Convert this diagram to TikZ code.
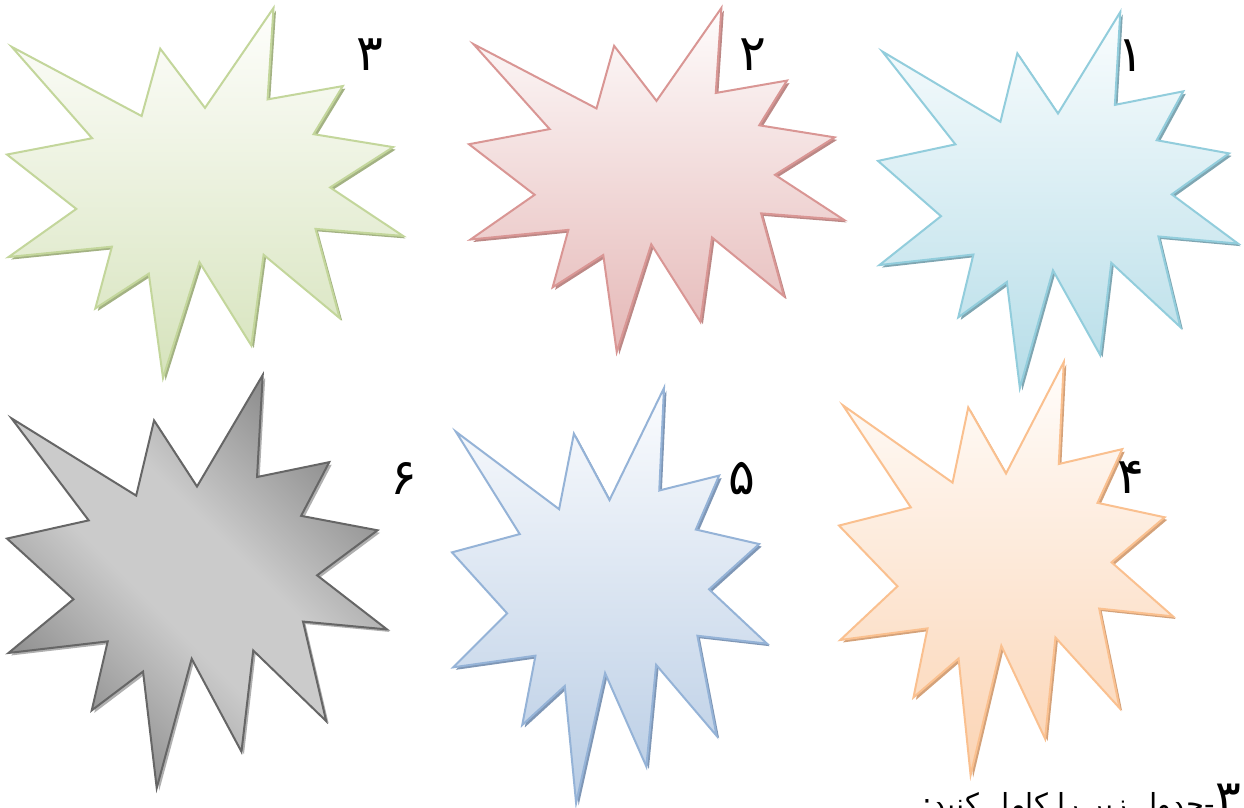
\documentclass[tikz,border=0pt]{standalone}
\usepackage{fontspec}
\newfontfamily\arabicfont[Script=Arabic]{DejaVu Sans}
\TeXXeTstate=1
\definecolor{gStroke}{HTML}{C3D69B}\definecolor{gTop}{HTML}{FEFEFC}\definecolor{gBot}{HTML}{D6E3BC}\definecolor{gSh}{HTML}{A3B283}
\definecolor{rStroke}{HTML}{D99694}\definecolor{rTop}{HTML}{FEFCFC}\definecolor{rBot}{HTML}{E5B8B7}\definecolor{rSh}{HTML}{BC8886}
\definecolor{cStroke}{HTML}{92CDDC}\definecolor{cTop}{HTML}{FAFDFE}\definecolor{cBot}{HTML}{B6DDE8}\definecolor{cSh}{HTML}{7FA6B2}
\definecolor{bStroke}{HTML}{95B3D7}\definecolor{bTop}{HTML}{FBFCFE}\definecolor{bBot}{HTML}{B8CCE4}\definecolor{bSh}{HTML}{7F97B6}
\definecolor{oStroke}{HTML}{FAC08F}\definecolor{oTop}{HTML}{FFFDFB}\definecolor{oBot}{HTML}{FBD4B4}\definecolor{oSh}{HTML}{D4A27A}
\definecolor{kStroke}{HTML}{666666}\definecolor{kLight}{HTML}{CBCBCB}\definecolor{kDark}{HTML}{858585}\definecolor{kSh}{HTML}{B0B0B0}
\pgfdeclareverticalshading{kshade}{100bp}{color(0bp)=(kDark); color(24bp)=(kDark); color(44bp)=(kLight); color(56bp)=(kLight); color(76bp)=(kDark); color(100bp)=(kDark)}
\newcommand\burstshape[1]{\path[#1] (0.012,0.105) -- (0.34,0.292) -- (0.387,0.11) -- (0.5,0.27) -- (0.673,0) -- (0.658,0.247) -- (0.848,0.211) -- (0.774,0.341) -- (0.975,0.376) -- (0.816,0.485) -- (1,0.616) -- (0.779,0.597) -- (0.84,0.838) -- (0.648,0.667) -- (0.617,0.912) -- (0.486,0.687) -- (0.394,1) -- (0.358,0.718) -- (0.223,0.812) -- (0.265,0.645) -- (0.004,0.673) -- (0.175,0.543) -- (0,0.396) -- (0.215,0.352) -- cycle;}
% #1 x0, #2 y0, #3 W, #4 H, #5 shadow colour, #6 fill/draw options
\newcommand\burst[6]{%
  \begin{scope}[shift={(#1+2.5,#2+2.5)},xscale=#3,yscale=#4]
    \burstshape{fill=#5}
  \end{scope}
  \begin{scope}[shift={(#1,#2)},xscale=#3,yscale=#4]
    \burstshape{#6}
  \end{scope}}
\begin{document}
\begin{tikzpicture}[x=1pt,y=-1pt,
  num/.style={font=\arabicfont\fontsize{50}{50}\selectfont, inner sep=0pt},
  edge/.style={line width=2pt, line join=miter}]
\useasboundingbox[fill=white] (0,0) rectangle (1244,807);
% row 1
\burst{7}{8}{396}{370}{gSh}{edge, draw=gStroke, top color=gTop, bottom color=gBot}
\burst{469}{8}{375}{344}{rSh}{edge, draw=rStroke, top color=rTop, bottom color=rBot}
\burst{878}{12}{360}{376}{cSh}{edge, draw=cStroke, top color=cTop, bottom color=cBot}
% row 2: grey star, diagonal shading clipped to the shape
\begin{scope}[shift={(9.5,377.5)},xscale=380,yscale=413]
  \burstshape{fill=kSh}
\end{scope}
\begin{scope}
  \clip[shift={(7,375)},xscale=380,yscale=413] (0.012,0.105) -- (0.34,0.292) -- (0.387,0.11) -- (0.5,0.27) -- (0.673,0) -- (0.658,0.247) -- (0.848,0.211) -- (0.774,0.341) -- (0.975,0.376) -- (0.816,0.485) -- (1,0.616) -- (0.779,0.597) -- (0.84,0.838) -- (0.648,0.667) -- (0.617,0.912) -- (0.486,0.687) -- (0.394,1) -- (0.358,0.718) -- (0.223,0.812) -- (0.265,0.645) -- (0.004,0.673) -- (0.175,0.543) -- (0,0.396) -- (0.215,0.352) -- cycle;
  \shade[shading=kshade, shading angle=-45] (7,375) rectangle (387,788);
\end{scope}
\begin{scope}[shift={(7,375)},xscale=380,yscale=413]
  \burstshape{edge, draw=kStroke}
\end{scope}
\burst{452}{388}{315}{415}{bSh}{edge, draw=bStroke, top color=bTop, bottom color=bBot}
\burst{839}{362}{334}{413}{oSh}{edge, draw=oStroke, top color=oTop, bottom color=oBot}
% numbers
\node[num] (n3) at (370,55) {۳};
\node[num] (n2) at (753,55) {۲};
\node[num] (n1) at (1131,56) {۱};
\node[num] (n6) at (404,478) {۶};
\node[num] (n5) at (742,479) {۵};
\node[num] (n4) at (1131,477) {۴};
% caption
\node[anchor=base east, inner sep=0pt, font=\arabicfont\fontsize{29}{29}\selectfont] (cap) at (1241,814)
  {\beginR{\fontsize{48}{48}\selectfont ۳}-جدول زیر را کامل کنید:\endR};
\end{tikzpicture}
\end{document}
